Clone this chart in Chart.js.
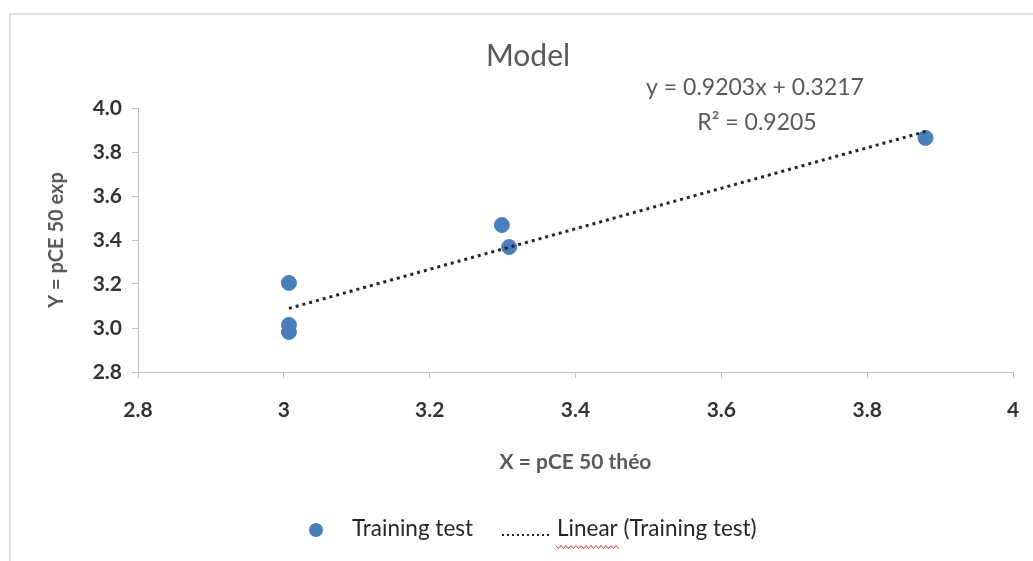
<!DOCTYPE html>
<html>
<head>
<meta charset="UTF-8">
<title>Model</title>
<script src="https://cdn.jsdelivr.net/npm/chart.js"></script>
<style>
  html, body { margin: 0; padding: 0; background: #fff; overflow: hidden; }
  .frame { position: absolute; left: 9px; top: 13px; width: 1040px; height: 560px;
           border-left: 2px solid #dedede; border-top: 2px solid #dedede; }
  .wrap { position: absolute; left: 0; top: 0; width: 1033px; height: 561px; }
</style>
</head>
<body>
<div class="frame"></div>
<div class="wrap"><canvas id="chart" width="1033" height="561"></canvas></div>
<script>
// training set: theoretical vs experimental pCE50
const pceTheo = [3.007, 3.007, 3.007, 3.299, 3.309, 3.880];
const pceExp  = [3.205, 3.014, 2.982, 3.468, 3.368, 3.864];
// linear trendline end points (y = 0.9203x + 0.3217)
const trendX = [3.007, 3.880];
const trendY = [3.089, 3.893];
const xTickLabels = ['2.8', '3', '3.2', '3.4', '3.6', '3.8', '4'];
const yTickLabels = ['2.8', '3.0', '3.2', '3.4', '3.6', '3.8', '4.0'];

const FONT = 'Lato';
const BLUE = '#4a7ebb';

const overlay = {
  id: 'overlay',
  afterDraw(chart) {
    const ctx = chart.ctx;
    ctx.save();
    ctx.textAlign = 'center';
    ctx.textBaseline = 'middle';
    ctx.fillStyle = '#595959';
    ctx.font = '30px ' + FONT;
    ctx.fillText('Model', 528, 56);
    ctx.font = '23px ' + FONT;
    ctx.fillText('y = 0.9203x + 0.3217', 755, 88);
    ctx.fillText('R\u00b2 = 0.9205', 757, 123);

    // legend
    ctx.fillStyle = BLUE;
    ctx.beginPath();
    ctx.arc(316, 530, 7, 0, Math.PI * 2);
    ctx.fill();
    ctx.textAlign = 'left';
    ctx.fillStyle = '#262626';
    ctx.font = '22.5px ' + FONT;
    ctx.fillText('Training test', 352, 529);
    ctx.fillText('Linear (Training test)', 557, 529);
    ctx.strokeStyle = '#262626';
    ctx.lineWidth = 2;
    ctx.setLineDash([2, 3]);
    ctx.beginPath();
    ctx.moveTo(502, 535);
    ctx.lineTo(550, 535);
    ctx.stroke();
    // spell-check squiggle
    ctx.setLineDash([]);
    ctx.strokeStyle = '#e03030';
    ctx.lineWidth = 1;
    ctx.beginPath();
    for (let x = 556, k = 0; x <= 620; x += 2.5, k++) {
      const y = 547 + (k % 2 ? 1.5 : -1.5);
      if (k === 0) ctx.moveTo(x, y); else ctx.lineTo(x, y);
    }
    ctx.stroke();
    ctx.restore();
  }
};

new Chart(document.getElementById('chart'), {
  type: 'scatter',
  data: {
    datasets: [
      {
        label: 'Linear (Training test)',
        data: trendX.map((x, i) => ({ x: x, y: trendY[i] })),
        showLine: true,
        pointRadius: 0,
        borderColor: '#262626',
        borderWidth: 3,
        borderDash: [3, 4]
      },
      {
        label: 'Training test',
        data: pceTheo.map((x, i) => ({ x: x, y: pceExp[i] })),
        pointRadius: 7.5,
        pointHoverRadius: 7.5,
        backgroundColor: BLUE,
        borderColor: BLUE
      }
    ]
  },
  options: {
    responsive: false,
    animation: false,
    layout: { padding: { left: 0, top: 108, right: 20, bottom: 79 } },
    plugins: { legend: { display: false }, tooltip: { enabled: false } },
    scales: {
      x: {
        type: 'linear',
        min: 2.8,
        max: 4.0,
        ticks: {
          stepSize: 0.2,
          padding: 20,
          color: '#333',
          font: { family: FONT, size: 21, weight: 'bold' },
          callback: (v, i) => xTickLabels[i]
        },
        grid: { drawOnChartArea: false, drawTicks: true, tickLength: 6, color: '#bfbfbf' },
        border: { color: '#bfbfbf' },
        title: {
          display: true,
          text: 'X = pCE 50 th\u00e9o',
          color: '#595959',
          font: { family: FONT, size: 21, weight: 'bold' },
          padding: { top: 0, bottom: 7 }
        },
        afterFit: s => { s.height = 110; s.paddingRight = 0; }
      },
      y: {
        min: 2.8,
        max: 4.0,
        ticks: {
          stepSize: 0.2,
          padding: 10,
          color: '#333',
          font: { family: FONT, size: 21, weight: 'bold' },
          callback: (v, i) => yTickLabels[i]
        },
        grid: { drawOnChartArea: false, drawTicks: true, tickLength: 6, color: '#bfbfbf' },
        border: { color: '#bfbfbf' },
        title: {
          display: true,
          text: 'Y = pCE 50 exp',
          color: '#595959',
          font: { family: FONT, size: 20, weight: 'bold' },
          padding: { top: 45, bottom: 0 }
        },
        afterFit: s => { s.width = 138; }
      }
    }
  },
  plugins: [overlay]
});
</script>
</body>
</html>
